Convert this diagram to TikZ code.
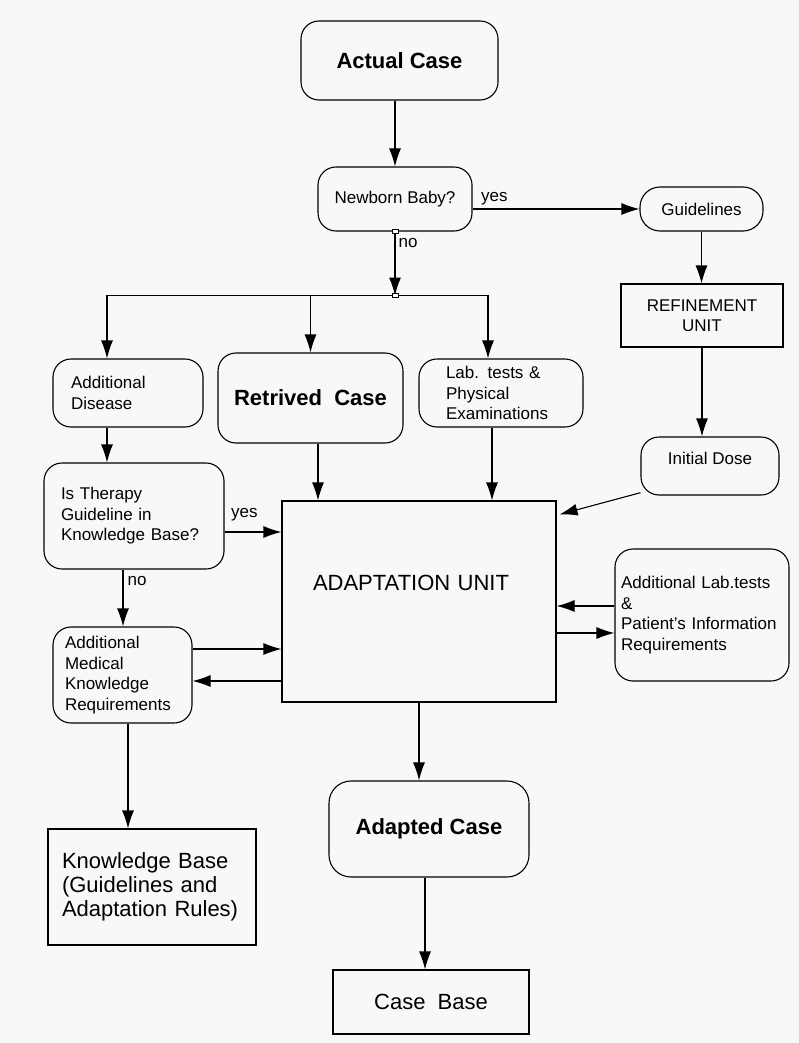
\documentclass[tikz,border=0pt]{standalone}
\usepackage{fontspec}
\setmainfont{Liberation Sans}
\usepackage{pgf,tikz}
\usetikzlibrary{arrows.meta}
\definecolor{bgc}{RGB}{248,248,248}
\newcommand\smallf{\fontsize{17}{20.5}\selectfont}
\newcommand\boldf{\fontsize{22}{26}\selectfont\bfseries}
\newcommand\bigf{\fontsize{22}{24}\selectfont}

\begin{document}
\begin{tikzpicture}[
    x=1pt, y=-1pt,
    rbox/.style={%
      draw,
      rounded corners=18pt,
      line width=1.1pt,
      font=\smallf,
      align=left,
    },
    rect/.style={%
      draw,
      line width=1.1pt,
    },
    handle/.style={%
      draw,
      fill=white,
      inner sep=0pt,
      minimum width=6pt,
      minimum height=4pt,
      line width=0.8pt,
    },
    lbl/.style={font=\smallf, inner sep=1pt},
    arr/.style={-{Latex[length=18pt,width=12pt]}, line width=1.1pt},
  ]

    \fill [bgc] (0,0) rectangle (799,1043);
    \useasboundingbox (0,0) rectangle (799,1043);

    \node [rbox, font=\boldf, minimum width=197pt, minimum height=79pt] (ac) at (399.5,60.5) {Actual Case};
    \path (ac) ++(-4.5,138.5) node [rbox, minimum width=154pt, minimum height=64pt] (nb) {Newborn Baby?};
    \path (nb) ++(306.5,10) node [rbox, rounded corners=20pt, minimum width=123pt, minimum height=44pt] (gl) {Guidelines};
    \path (gl) ++(0.5,106.5) node [rect, font=\smallf, align=center, minimum width=162pt, minimum height=63pt] (ru) {REFINEMENT\\UNIT};
    \path (ru) ++(8,150.5) node [rbox, text height=12pt, text depth=16pt, minimum width=138pt, minimum height=58pt] (id) {Initial Dose};
    \path (nb) ++(-267,194) node [rbox, text width=114pt, inner xsep=18pt, minimum width=150pt, minimum height=68pt] (ad) {Additional\\Disease};
    \path (nb) ++(-84.5,199) node [rbox, font=\boldf, minimum width=185pt, minimum height=90pt] (rc) {Retrived\ \ Case};
    \path (nb) ++(106,194) node [rbox, text width=110pt, inner xsep=27pt, minimum width=164pt, minimum height=68pt] (lt) {Lab. tests \&\\Physical\\Examinations};
    \path (rc) ++(108.5,203.5) node [rect, font=\bigf, align=left, text width=212pt, inner xsep=31pt, text height=16pt, text depth=39pt, minimum width=274pt, minimum height=201pt] (au) {ADAPTATION UNIT};
    \path (ad) ++(6,123) node [rbox, text width=146pt, inner xsep=17pt, minimum width=180pt, minimum height=106pt] (it) {Is Therapy\\Guideline in\\Knowledge Base?};
    \path (it) ++(-11.5,159) node [rbox, text width=115pt, inner xsep=12pt, minimum width=139pt, minimum height=96pt] (am) {Additional\\Medical\\Knowledge\\Requirements};
    \path (au) ++(283,13.5) node [rbox, text width=162pt, inner xsep=6pt, minimum width=174pt, minimum height=132pt] (al) {Additional Lab.tests\\\&\\Patient's Information\\Requirements};
    \path (au) ++(10,227.5) node [rbox, font=\boldf, rounded corners=22pt, minimum width=200pt, minimum height=96pt] (adc) {Adapted Case};
    \path (adc) ++(2,173) node [rect, font=\bigf, minimum width=196pt, minimum height=64pt] (cb) {Case\ \ Base};
    \path (am) ++(29.5,212) node [rect, font=\bigf, align=left, text width=180pt, inner xsep=14pt, minimum width=208pt, minimum height=116pt] (kb) {Knowledge Base\\(Guidelines and\\Adaptation Rules)};

    \coordinate (br) at ([yshift=-64pt]nb.south);
    \coordinate (adin) at ([xshift=-21pt]ad.north);
    \coordinate (ltin) at ([xshift=-13pt]lt.north);
    \coordinate (aun) at ([shift={(3pt,-14pt)}]au.north east);
    \coordinate (rcout) at ([xshift=7.5pt]rc.south);
    \coordinate (ltout) at ([xshift=-9pt]lt.south);
    \coordinate (itout) at ([yshift=-16pt]it.east);
    \coordinate (itdn) at ([xshift=-11pt]it.south);
    \coordinate (amout) at ([yshift=26pt]am.east);
    \coordinate (amin) at ([yshift=-6pt]am.east);
    \coordinate (alout) at ([yshift=9pt]al.west);
    \coordinate (alin) at ([yshift=-18pt]al.west);
    \coordinate (adcout) at ([xshift=-4pt]adc.south);
    \coordinate (amdn) at ([xshift=5.5pt]am.south);

    \draw [arr] (ac.south -| nb.north) -- (nb.north);
    \draw [arr] (nb.east |- gl.west) -- (gl.west) node [lbl, pos=0, anchor=south west, xshift=7pt, yshift=2.5pt] {yes};
    \draw [arr] (nb.south) -- (br) node [lbl, pos=0, anchor=north west, xshift=2pt, yshift=-5pt] {no};
    \draw [arr] (br) -| (adin);
    \draw [arr] (br) -| (rc.north);
    \draw [arr] (br) -| (ltin);
    \node [handle] (h1) at (nb.south) {};
    \node [handle] (h2) at (br) {};

    \draw [arr] (gl.south) -- (gl.south |- ru.north);
    \draw [arr] (ru.south) -- (ru.south |- id.north);
    \draw [arr] (id.201) -- (aun);

    \draw [arr] (adin |- ad.south) -- (adin |- it.north);
    \draw [arr] (rcout) -- (rcout |- au.north);
    \draw [arr] (ltout) -- (ltout |- au.north);

    \draw [arr] (itout) -- (itout -| au.west) node [lbl, pos=0, anchor=south west, xshift=5pt, yshift=9pt] {yes};
    \draw [arr] (itdn) -- (itdn |- am.north) node [lbl, pos=0, anchor=north west, xshift=3pt, yshift=-5pt] {no};
    \draw [arr] (amout) -- (amout -| au.west);
    \draw [arr] (amin -| au.west) -- (amin);
    \draw [arr] (alout) -- (alout -| au.east);
    \draw [arr] (alin -| au.east) -- (alin);

    \draw [arr] (au.south) -- (au.south |- adc.north);
    \draw [arr] (adcout) -- (adcout |- cb.north);
    \draw [arr] (amdn) -- (amdn |- kb.north);
\end{tikzpicture}
\end{document}
